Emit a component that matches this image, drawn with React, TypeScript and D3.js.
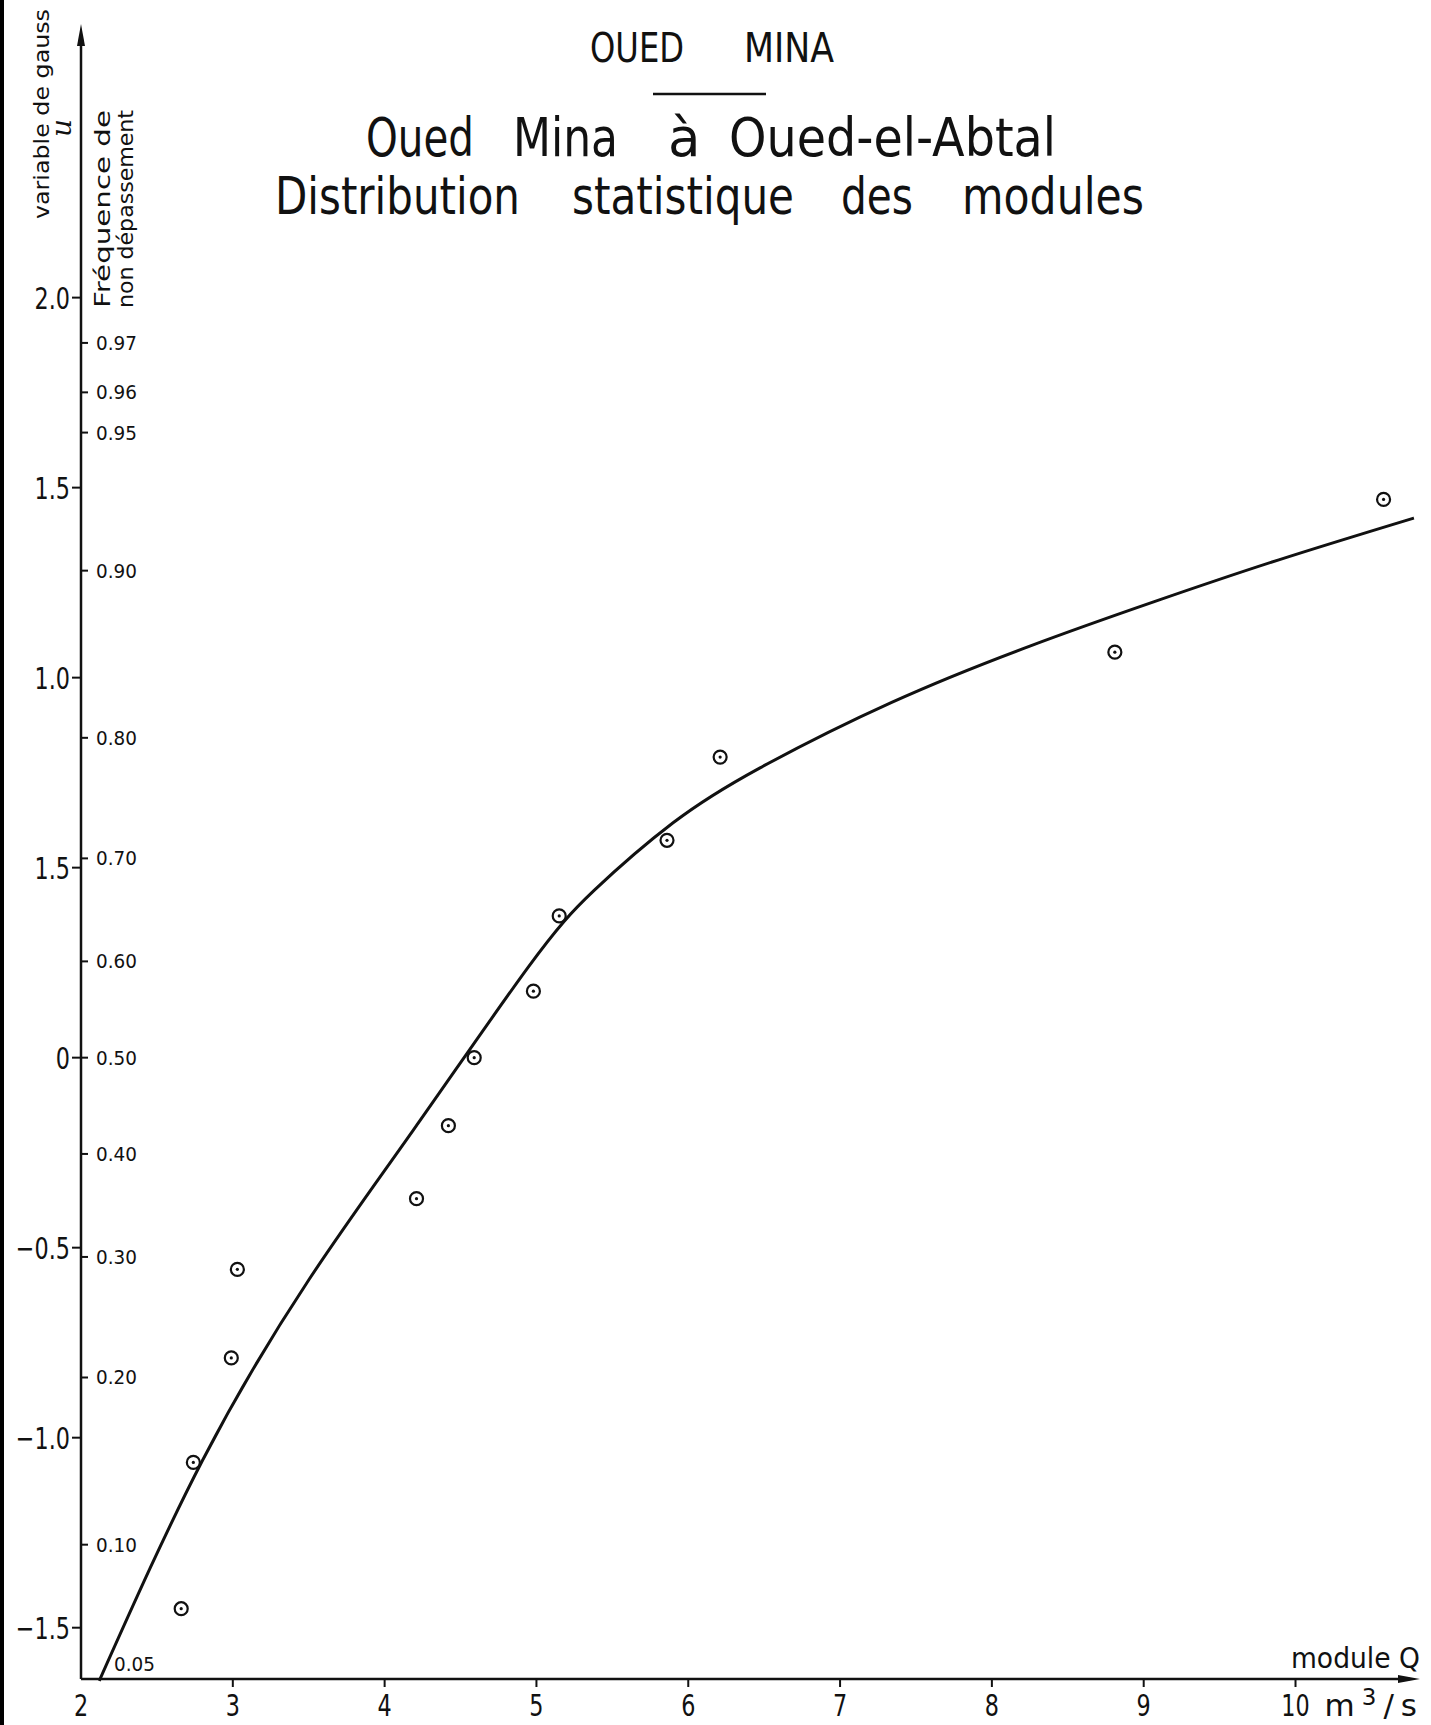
import React, { useEffect, useRef } from 'react';
import * as d3 from 'd3';

// observed modules (m3/s) and their gauss variable
const moduleQ = [2.66, 2.74, 2.99, 3.03, 4.21, 4.42, 4.59, 4.98, 5.15, 5.86, 6.21, 8.81, 10.58];
const gaussU = [-1.45, -1.065, -0.79, -0.557, -0.371, -0.179, 0.0, 0.175, 0.373, 0.572, 0.791, 1.067, 1.469];

// fitted curve
const curveQ = [2.12, 2.8, 3.5, 4.19, 4.94, 5.38, 5.9, 6.47, 7.34, 8.25, 9.07, 9.89, 10.78];
const curveU = [-1.64, -1.06, -0.585, -0.19, 0.235, 0.44, 0.618, 0.762, 0.935, 1.083, 1.2, 1.31, 1.42];

// axes
const uTicks = [2.0, 1.5, 1.0, 0.5, 0, -0.5, -1.0, -1.5];
const uTickLabels = ['2.0', '1.5', '1.0', '1.5', '0', '−0.5', '−1.0', '−1.5'];
const freqTicks = [0.97, 0.96, 0.95, 0.9, 0.8, 0.7, 0.6, 0.5, 0.4, 0.3, 0.2, 0.1];
const qTicks = [2, 3, 4, 5, 6, 7, 8, 9, 10];

// inverse of the normal distribution (Acklam)
function probit(p: number) {
  const a = [-39.69683028665376, 220.9460984245205, -275.9285104469687, 138.357751867269, -30.66479806614716, 2.506628277459239];
  const b = [-54.47609879822406, 161.5858368580409, -155.6989798598866, 66.80131188771972, -13.28068155288572];
  const c = [-0.007784894002430293, -0.3223964580411365, -2.400758277161838, -2.549732539343734, 4.374664141464968, 2.938163982698783];
  const d = [0.007784695709041462, 0.3224671290700398, 2.445134137142996, 3.754408661907416];
  const pl = 0.02425;
  if (p < pl) {
    const q = Math.sqrt(-2 * Math.log(p));
    return (((((c[0] * q + c[1]) * q + c[2]) * q + c[3]) * q + c[4]) * q + c[5]) / ((((d[0] * q + d[1]) * q + d[2]) * q + d[3]) * q + 1);
  }
  if (p <= 1 - pl) {
    const q = p - 0.5, r = q * q;
    return (((((a[0] * r + a[1]) * r + a[2]) * r + a[3]) * r + a[4]) * r + a[5]) * q / (((((b[0] * r + b[1]) * r + b[2]) * r + b[3]) * r + b[4]) * r + 1);
  }
  const q = Math.sqrt(-2 * Math.log(1 - p));
  return -(((((c[0] * q + c[1]) * q + c[2]) * q + c[3]) * q + c[4]) * q + c[5]) / ((((d[0] * q + d[1]) * q + d[2]) * q + d[3]) * q + 1);
}

const FONT = 'DejaVu Sans';
const INK = '#111';

const App = () => {
  const svgRef = useRef<SVGSVGElement>(null);

  useEffect(() => {
    const width = 1431;
    const height = 1725;

    d3.select(svgRef.current).selectAll('*').remove();
    const svg = d3.select(svgRef.current)
      .attr('width', width)
      .attr('height', height)
      .style('background', '#fff')
      .style('font-family', FONT);

    const x = d3.scaleLinear().domain([2, 10.82]).range([81, 1420]);
    const y = d3.scaleLinear().domain([-1.635, 2.72]).range([1679, 24]);

    // scanner edge on the left
    svg.append('rect').attr('x', 0).attr('y', 0).attr('width', 4).attr('height', height).attr('fill', '#000');

    // condensed text helper
    const label = (g: any, tx: number, ty: number, text: string, size: number, anchor: string, sx = 0.7) =>
      g.append('text')
        .attr('transform', `translate(${tx},${ty}) scale(${sx},1)`)
        .attr('text-anchor', anchor)
        .attr('font-size', size)
        .attr('fill', INK)
        .text(text);

    // titles, word by word
    const words = (list: [string, number, number | null][], baseline: number, size: number) => {
      list.forEach(([t, x0, x1]) => {
        const el = svg.append('text')
          .attr('x', x0).attr('y', baseline)
          .attr('font-size', size)
          .attr('fill', INK)
          .text(t);
        if (x1 !== null) el.attr('textLength', x1 - x0).attr('lengthAdjust', 'spacingAndGlyphs');
      });
    };
    words([['OUED', 590, 684], ['MINA', 744, 834]], 62, 40);
    svg.append('line').attr('x1', 653).attr('x2', 766).attr('y1', 94).attr('y2', 94)
      .attr('stroke', INK).attr('stroke-width', 2.5);
    words([['Oued', 366, 474], ['Mina', 513, 618], ['à', 668, null], ['Oued-el-Abtal', 729, 1056]], 156, 53);
    words([['Distribution', 275, 520], ['statistique', 572, 794], ['des', 841, 913], ['modules', 962, 1144]], 214, 51);

    // y axis with arrow
    svg.append('line').attr('x1', x(2)).attr('x2', x(2)).attr('y1', y(-1.635)).attr('y2', 40)
      .attr('stroke', INK).attr('stroke-width', 2.5);
    svg.append('path').attr('d', `M${x(2)},${y(2.72)} L${x(2) - 4},${y(2.72) + 22} L${x(2) + 4},${y(2.72) + 22} Z`).attr('fill', INK);

    // x axis with arrow
    svg.append('line').attr('x1', x(2)).attr('x2', x(10.82) - 10).attr('y1', y(-1.635)).attr('y2', y(-1.635))
      .attr('stroke', INK).attr('stroke-width', 2.5);
    svg.append('path').attr('d', `M${x(10.82)},${y(-1.635)} L${x(10.82) - 22},${y(-1.635) - 4} L${x(10.82) - 22},${y(-1.635) + 4} Z`).attr('fill', INK);

    // gauss ticks (left)
    const gy = svg.append('g');
    uTicks.forEach((u, i) => {
      gy.append('line').attr('x1', x(2) - 9).attr('x2', x(2)).attr('y1', y(u)).attr('y2', y(u))
        .attr('stroke', INK).attr('stroke-width', 2);
      label(gy, x(2) - 11, y(u) + 11, uTickLabels[i], 31, 'end', 0.72);
    });

    // frequency ticks (right)
    const fmt = d3.format('.2f');
    const gf = svg.append('g');
    freqTicks.forEach((p) => {
      const u = probit(p);
      gf.append('line').attr('x1', x(2)).attr('x2', x(2) + 7).attr('y1', y(u)).attr('y2', y(u))
        .attr('stroke', INK).attr('stroke-width', 2);
      label(gf, x(2) + 15, y(u) + 7, fmt(p), 20, 'start', 0.92);
    });
    label(gf, x(2) + 33, y(probit(0.05)) - 12, fmt(0.05), 20, 'start', 0.92);

    // Q ticks
    const gq = svg.append('g');
    qTicks.forEach((q) => {
      if (q > 2) {
        gq.append('line').attr('x1', x(q)).attr('x2', x(q)).attr('y1', y(-1.635)).attr('y2', y(-1.635) + 8)
          .attr('stroke', INK).attr('stroke-width', 2);
      }
      label(gq, x(q), 1716, String(q), 31, 'middle', 0.72);
    });

    // axis titles
    label(svg, 1420, 1668, 'module Q', 28, 'end', 0.95);
    const unit = svg.append('text')
      .attr('transform', `translate(1424,1716)`)
      .attr('text-anchor', 'end')
      .attr('font-size', 31)
      .attr('letter-spacing', 7)
      .attr('fill', INK);
    unit.append('tspan').text('m');
    unit.append('tspan').attr('dy', -11).attr('font-size', 23).text('3');
    unit.append('tspan').attr('dy', 11).text('/s');

    const vt = (tx: number, ty: number, text: string, size: number, len: number) =>
      svg.append('text')
        .attr('transform', `translate(${tx},${ty}) rotate(-90)`)
        .attr('text-anchor', 'middle')
        .attr('font-size', size)
        .attr('fill', INK)
        .attr('textLength', len)
        .attr('lengthAdjust', 'spacingAndGlyphs')
        .text(text);
    vt(49, 114, 'variable de gauss', 21, 210);
    svg.append('text')
      .attr('transform', `translate(71,128) rotate(-90)`)
      .attr('text-anchor', 'middle')
      .attr('font-size', 28)
      .attr('font-style', 'italic')
      .attr('font-family', 'DejaVu Serif')
      .attr('fill', INK)
      .text('u');
    vt(110, 209, 'Fréquence de', 21, 198);
    vt(133, 209, 'non dépassement', 21, 198);

    // fitted curve
    const pts = curveQ.map((q, i) => [q, curveU[i]] as [number, number]);
    svg.append('path')
      .datum(pts)
      .attr('d', d3.line<[number, number]>().x(d => x(d[0])).y(d => y(d[1])).curve(d3.curveNatural))
      .attr('fill', 'none')
      .attr('stroke', INK)
      .attr('stroke-width', 3);

    // observations: circle with a dot
    const obs = moduleQ.map((q, i) => [q, gaussU[i]] as [number, number]);
    const gp = svg.append('g');
    gp.selectAll('circle.ring')
      .data(obs)
      .join('circle')
      .attr('class', 'ring')
      .attr('cx', d => x(d[0]))
      .attr('cy', d => y(d[1]))
      .attr('r', 6.5)
      .attr('fill', 'none')
      .attr('stroke', INK)
      .attr('stroke-width', 2.2);
    gp.selectAll('circle.dot')
      .data(obs)
      .join('circle')
      .attr('class', 'dot')
      .attr('cx', d => x(d[0]))
      .attr('cy', d => y(d[1]))
      .attr('r', 1.6)
      .attr('fill', INK);
  }, []);

  return (
    <div style={{ position: 'absolute', left: 0, top: 0 }}>
      <svg ref={svgRef}></svg>
    </div>
  );
};

export default App;
